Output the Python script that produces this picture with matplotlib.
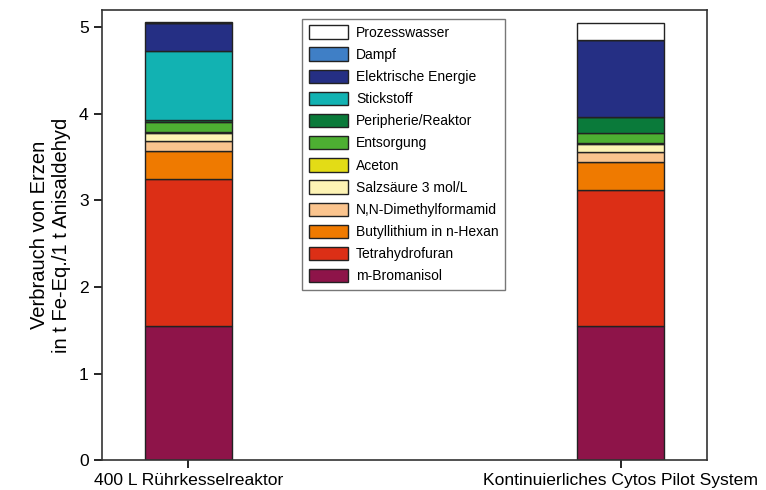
import numpy as np
import matplotlib.pyplot as plt

plt.rcParams["font.family"] = ["Liberation Sans", "DejaVu Sans"]

# stacking order: bottom -> top
components = [
    "m-Bromanisol",
    "Tetrahydrofuran",
    "Butyllithium in n-Hexan",
    "N,N-Dimethylformamid",
    "Salzsäure 3 mol/L",
    "Aceton",
    "Entsorgung",
    "Peripherie/Reaktor",
    "Stickstoff",
    "Elektrische Energie",
    "Dampf",
    "Prozesswasser",
]
colors = [
    "#8e1449", "#dc2f16", "#ef7a00", "#fac48e", "#fdf3b4", "#e3dc16",
    "#4daf32", "#0a7a3a", "#12b2b2", "#252f84", "#3f7fc6", "#ffffff",
]
systems = ["400 L Rührkesselreaktor", "Kontinuierliches Cytos Pilot System"]

ruehrkessel = [1.55, 1.70, 0.32, 0.12, 0.09, 0.01, 0.11, 0.03, 0.80, 0.32, 0.00, 0.005]
cytos = [1.55, 1.57, 0.32, 0.12, 0.09, 0.01, 0.12, 0.18, 0.00, 0.89, 0.00, 0.20]

values = np.array([ruehrkessel, cytos]).T

fig = plt.figure(figsize=(7.66, 4.9), dpi=100)
ax = fig.add_axes([0.133, 0.061, 0.79, 0.919])

x = np.arange(len(systems))
bottom = np.zeros(len(systems))
handles = []
for name, col, vals in zip(components, colors, values):
    h = ax.bar(x, vals, width=0.2, bottom=bottom, color=col,
               edgecolor="#222222", linewidth=1.0, label=name)
    handles.append(h)
    bottom += vals

ax.set_xlim(-0.2, 1.2)
ax.set_ylim(0, 5.2)
ax.set_yticks([0, 1, 2, 3, 4, 5])
ax.set_xticks(x)
ax.set_xticklabels(systems, fontsize=12.6)
ax.tick_params(axis="y", labelsize=12.6, length=6, width=1.2)
ax.tick_params(axis="x", length=6, width=1.2, pad=3)
for s in ax.spines.values():
    s.set_linewidth(1.2)
    s.set_color("#333333")
ax.set_ylabel("Verbrauch von Erzen\nin t Fe-Eq./1 t Anisaldehyd", fontsize=14.5,
              linespacing=1.15, labelpad=6)

leg = ax.legend(handles[::-1], components[::-1], loc="upper left",
                bbox_to_anchor=(0.32, 0.995), fontsize=10, frameon=True,
                fancybox=False, edgecolor="#555555", handlelength=2.8,
                handleheight=1.1, labelspacing=0.56, borderpad=0.45,
                handletextpad=0.6)
leg.get_frame().set_linewidth(1.0)

fig.savefig("out.png", dpi=100)
